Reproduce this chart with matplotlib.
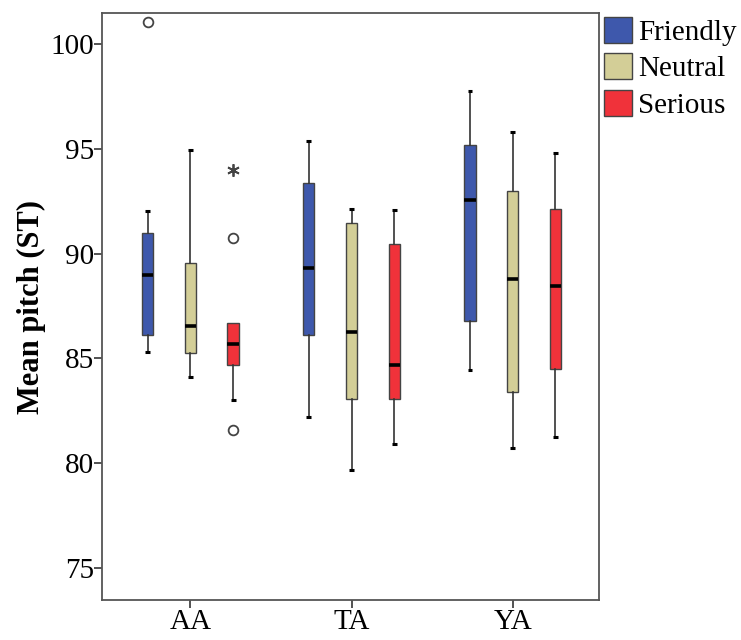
import numpy as np
import matplotlib.pyplot as plt
from matplotlib.patches import Patch

plt.rcParams['font.family'] = ['Liberation Serif', 'DejaVu Serif']

# Age groups and speaking styles
groups = ['AA', 'TA', 'YA']
styles = ['Friendly', 'Neutral', 'Serious']
colors = ['#3E58AC', '#D3CE97', '#F0323A']

# Box summaries per group, one entry per style: (low whisker, Q1, median, Q3, high whisker)
aa_stats = [(85.3, 86.1, 89.0, 91.0, 92.05),
            (84.1, 85.25, 86.55, 89.55, 94.95),
            (83.0, 84.7, 85.7, 86.7, 86.7)]
ta_stats = [(82.2, 86.1, 89.3, 93.35, 95.35),
            (79.7, 83.05, 86.25, 91.45, 92.15),
            (80.9, 83.05, 84.7, 90.45, 92.1)]
ya_stats = [(84.45, 86.8, 92.55, 95.2, 97.75),
            (80.75, 83.4, 88.8, 93.0, 95.8),
            (81.25, 84.5, 88.45, 92.15, 94.8)]

# Outliers (circles) and extreme values (stars): (group, style index, value)
outliers = [('AA', 0, 101.05), ('AA', 2, 90.75), ('AA', 2, 81.6)]
extremes = [('AA', 2, 94.0)]

offset = 0.265
width = 0.07
all_stats = {'AA': aa_stats, 'TA': ta_stats, 'YA': ya_stats}

fig, ax = plt.subplots(figsize=(7.41, 6.40), dpi=100)
fig.subplots_adjust(left=0.138, right=0.808, top=0.98, bottom=0.062)

for gi, g in enumerate(groups):
    for si, s in enumerate(styles):
        lo, q1, med, q3, hi = all_stats[g][si]
        st = [dict(whislo=lo, q1=q1, med=med, q3=q3, whishi=hi, fliers=[])]
        ax.bxp(st, positions=[gi + 1 + (si - 1) * offset], widths=width,
               patch_artist=True, showfliers=False, showcaps=False,
               boxprops=dict(facecolor=colors[si], edgecolor='#444444', linewidth=1),
               medianprops=dict(color='black', linewidth=2.6),
               whiskerprops=dict(color='#333333', linewidth=1.2))
        # short caps, skipped where the whisker collapses onto the box
        x = gi + 1 + (si - 1) * offset
        cap_w = 0.03
        for v, edge in ((lo, q1), (hi, q3)):
            if v != edge:
                ax.plot([x - cap_w / 2, x + cap_w / 2], [v, v], color='black', lw=2.2,
                        solid_capstyle='butt')

for g, si, v in outliers:
    ax.plot(groups.index(g) + 1 + (si - 1) * offset, v, 'o', ms=7,
            mfc='white', mec='#444444', mew=1.3)
for g, si, v in extremes:
    ax.plot(groups.index(g) + 1 + (si - 1) * offset, v, marker=(6, 2, 0), ms=9,
            mew=1.3, color='#444444', ls='none')

ax.set_xlim(0.453, 3.534)
ax.set_ylim(73.47, 101.48)
ax.set_xticks([1, 2, 3])
ax.set_xticklabels(groups)
ax.set_yticks([75, 80, 85, 90, 95, 100])
ax.tick_params(axis='both', labelsize=21, color='#444444', width=1.3)
ax.tick_params(axis='y', length=6, pad=0)
ax.tick_params(axis='x', length=6, pad=0)
for sp in ax.spines.values():
    sp.set_color('#555555')
    sp.set_linewidth(1.3)
ax.set_ylabel('Mean pitch (ST)', fontsize=22, fontweight='bold', labelpad=3)

handles = [Patch(facecolor=c, edgecolor='#444444', label=s) for c, s in zip(colors, styles)]
ax.legend(handles=handles, loc='upper left', bbox_to_anchor=(1.005, 0.998),
          frameon=False, fontsize=21, handlelength=0.96, handleheight=1.0,
          handletextpad=0.2, labelspacing=0.25, borderaxespad=0, borderpad=0.1)

plt.savefig('out.png', dpi=100)
